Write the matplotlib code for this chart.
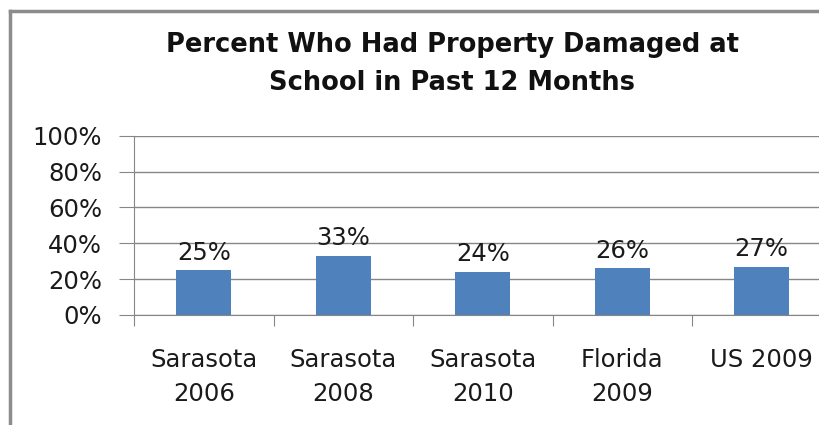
import matplotlib.pyplot as plt
from matplotlib.lines import Line2D
import numpy as np

categories = ['Sarasota\n2006', 'Sarasota\n2008', 'Sarasota\n2010', 'Florida\n2009', 'US 2009']
values = [25, 33, 24, 26, 27]
yticks = [0, 20, 40, 60, 80, 100]

BAR_COLOR = '#4F81BD'
GRID_COLOR = '#868686'
FONT = 'DejaVu Sans'
TEXT_SIZE = 17.5

fig = plt.figure(figsize=(8.2, 4.25), dpi=100)
ax = fig.add_axes([134 / 820, 1 - 315 / 425, 697.5 / 820, 179.3 / 425])

x = np.arange(len(categories))
ax.bar(x, values, width=0.395, color=BAR_COLOR, zorder=3)

for xi, v in zip(x, values):
    ax.annotate(f'{v}%', (xi, v), xytext=(0, 4), textcoords='offset points',
                ha='center', va='bottom', fontsize=TEXT_SIZE, family=FONT, color='#1a1a1a')

ax.set_xlim(-0.5, len(categories) - 0.5)
ax.set_ylim(0, 100)
ax.set_yticks(yticks)
ax.set_yticklabels([f'{t}%' for t in yticks], family=FONT, fontsize=TEXT_SIZE, color='#1a1a1a')
ax.yaxis.grid(True, color=GRID_COLOR, linewidth=1, zorder=0)

# category ticks sit between bars
ax.set_xticks(np.arange(len(categories) + 1) - 0.5)
ax.set_xticklabels([])
ax.set_xticks(x, minor=True)
ax.set_xticklabels(categories, minor=True, family=FONT, fontsize=TEXT_SIZE, color='#1a1a1a',
                   linespacing=1.5)
ax.tick_params(axis='x', which='minor', length=0, pad=24)
ax.tick_params(axis='x', which='major', length=8, color=GRID_COLOR)
ax.tick_params(axis='y', length=11, color=GRID_COLOR, pad=12)

for side in ('top', 'right'):
    ax.spines[side].set_visible(False)
for side in ('left', 'bottom'):
    ax.spines[side].set_color(GRID_COLOR)

fig.text(452 / 820, 1 - 64 / 425, 'Percent Who Had Property Damaged at\nSchool in Past 12 Months',
         ha='center', va='center', fontsize=18.5, fontweight='bold', family=FONT,
         linespacing=1.55, color='#111111')

# chart frame (only left and top edges fall inside the picture)
fig.add_artist(Line2D([10.5 / 820, 10.5 / 820], [0, 1 - 10.5 / 425], transform=fig.transFigure,
                      color='#8c8c8c', linewidth=2.5))
fig.add_artist(Line2D([10.5 / 820, 1], [1 - 10.5 / 425, 1 - 10.5 / 425], transform=fig.transFigure,
                      color='#8c8c8c', linewidth=2.5))

fig.savefig('out.png', dpi=100)
